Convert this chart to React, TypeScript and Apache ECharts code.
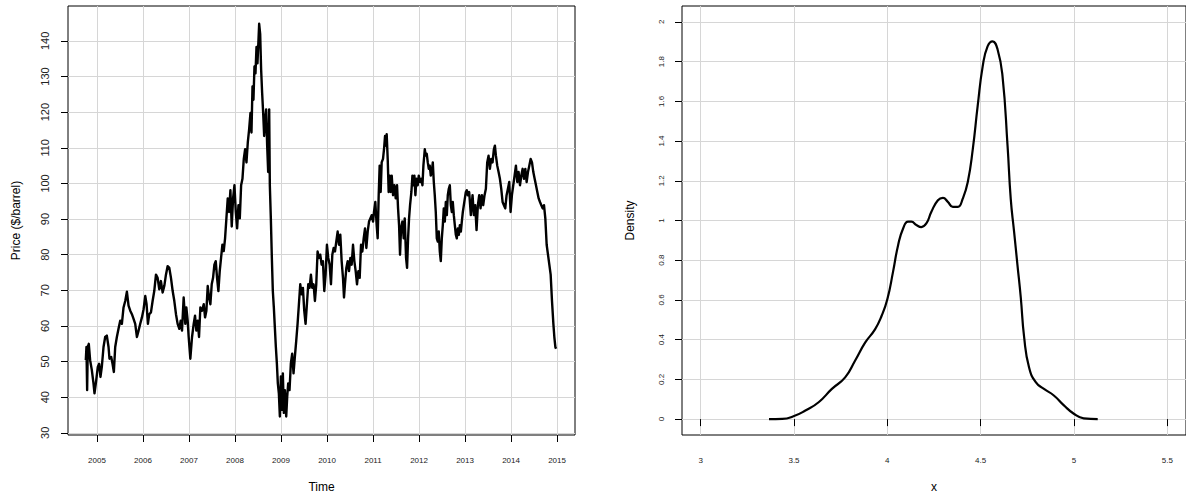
import React, { useEffect, useRef } from "react";
import * as echarts from "echarts";

// Daily crude oil price ($/barrel) at ~2-week resolution
const oil2004to2006: [number, number][] = [
  [2004.757, 50.4], [2004.771, 54.1], [2004.786, 42.0], [2004.8, 54.1], [2004.822, 55.0],
  [2004.851, 50.4], [2004.888, 47.6], [2004.924, 43.9], [2004.946, 41.1], [2004.975, 43.9],
  [2005.018, 48.5], [2005.047, 49.4], [2005.076, 45.7], [2005.105, 48.5], [2005.142, 54.1],
  [2005.178, 56.9], [2005.214, 57.3], [2005.251, 54.1], [2005.272, 50.8], [2005.309, 51.3],
  [2005.338, 49.4], [2005.367, 47.1], [2005.396, 54.1], [2005.432, 56.9], [2005.468, 59.2],
  [2005.505, 61.5], [2005.541, 60.6], [2005.577, 65.2], [2005.614, 67.0], [2005.65, 69.6],
  [2005.686, 65.7], [2005.723, 64.3], [2005.759, 63.3], [2005.795, 62.0], [2005.831, 60.6],
  [2005.868, 56.9], [2005.904, 58.7], [2005.94, 60.6], [2005.977, 62.4], [2006.013, 64.7],
  [2006.049, 68.4], [2006.078, 66.1], [2006.107, 60.6], [2006.136, 63.3], [2006.173, 63.8],
  [2006.209, 67.0], [2006.245, 69.8], [2006.282, 74.4], [2006.318, 73.5], [2006.354, 70.3],
  [2006.39, 72.6], [2006.427, 69.4], [2006.463, 71.2], [2006.499, 74.4], [2006.536, 76.8],
  [2006.572, 76.3], [2006.608, 73.5], [2006.645, 69.8], [2006.681, 67.0], [2006.717, 63.3],
  [2006.753, 60.6], [2006.79, 59.2], [2006.819, 61.5], [2006.848, 58.7],
];

const oil2007to2008: [number, number][] = [
  [2006.884, 68.0], [2006.92, 60.6], [2006.942, 65.2], [2006.971, 61.5], [2006.993, 56.9],
  [2007.029, 50.8], [2007.066, 56.9], [2007.102, 60.6], [2007.131, 62.9], [2007.16, 58.7],
  [2007.189, 61.5], [2007.218, 56.9], [2007.247, 65.2], [2007.283, 64.3], [2007.32, 66.1],
  [2007.349, 62.4], [2007.378, 64.3], [2007.407, 71.2], [2007.436, 68.0], [2007.465, 66.1],
  [2007.494, 71.7], [2007.523, 73.5], [2007.552, 77.2], [2007.581, 78.2], [2007.61, 73.5],
  [2007.639, 69.8], [2007.668, 75.4], [2007.697, 79.1], [2007.726, 82.8], [2007.755, 81.0],
  [2007.784, 84.6], [2007.813, 90.2], [2007.842, 95.8], [2007.871, 92.0], [2007.9, 98.1],
  [2007.929, 87.9], [2007.958, 95.8], [2007.988, 99.5], [2008.017, 92.0], [2008.046, 87.4],
  [2008.075, 93.9], [2008.104, 90.2], [2008.133, 99.5], [2008.162, 101.3], [2008.191, 106.9],
  [2008.22, 109.6], [2008.249, 105.9], [2008.278, 111.5], [2008.307, 115.2], [2008.336, 119.8],
  [2008.358, 114.3], [2008.38, 127.2], [2008.401, 123.5], [2008.423, 132.8], [2008.445, 130.9],
  [2008.467, 138.3], [2008.488, 133.7], [2008.51, 140.2], [2008.525, 144.8], [2008.547, 142.0],
  [2008.568, 131.9], [2008.59, 125.4], [2008.612, 119.8], [2008.634, 113.3], [2008.655, 118.0],
  [2008.677, 120.8], [2008.699, 110.6], [2008.721, 103.2], [2008.743, 120.8], [2008.757, 99.5],
  [2008.779, 90.2], [2008.801, 79.1], [2008.822, 69.8], [2008.844, 65.2], [2008.866, 59.6],
  [2008.888, 54.1], [2008.91, 49.5], [2008.931, 43.9], [2008.953, 41.1],
];

const oil2009to2010: [number, number][] = [
  [2008.975, 34.6], [2008.997, 45.8], [2009.018, 36.5], [2009.04, 46.7], [2009.062, 35.6],
  [2009.084, 42.0], [2009.113, 34.6], [2009.135, 40.2], [2009.156, 43.9], [2009.185, 42.0],
  [2009.214, 49.5], [2009.243, 52.2], [2009.272, 46.7], [2009.301, 51.3], [2009.331, 55.9],
  [2009.36, 60.6], [2009.389, 66.1], [2009.418, 71.7], [2009.447, 68.9], [2009.476, 70.7],
  [2009.505, 64.3], [2009.534, 60.6], [2009.563, 66.1], [2009.592, 71.7], [2009.621, 70.7],
  [2009.65, 74.4], [2009.679, 70.7], [2009.708, 71.7], [2009.737, 67.0], [2009.766, 71.7],
  [2009.795, 80.9], [2009.824, 79.1], [2009.853, 80.0], [2009.882, 77.2], [2009.911, 78.2],
  [2009.94, 69.8], [2009.969, 74.4], [2009.998, 82.8], [2010.027, 79.1], [2010.057, 77.2],
  [2010.086, 71.7], [2010.115, 80.0], [2010.144, 81.9], [2010.173, 80.9], [2010.202, 83.7],
  [2010.231, 86.5], [2010.26, 82.8], [2010.289, 85.6], [2010.318, 78.2], [2010.347, 73.5],
  [2010.369, 68.0], [2010.39, 71.7], [2010.42, 76.3], [2010.449, 78.2], [2010.478, 75.4],
  [2010.507, 79.1], [2010.536, 77.2], [2010.565, 82.8], [2010.594, 78.2], [2010.623, 75.4],
  [2010.652, 71.7], [2010.681, 75.4], [2010.71, 73.5], [2010.739, 82.8], [2010.768, 80.9],
  [2010.797, 84.6], [2010.826, 87.4], [2010.855, 81.9], [2010.884, 86.5], [2010.913, 89.3],
  [2010.942, 90.2], [2010.971, 91.1], [2011.0, 89.3],
];

const oil2011to2012: [number, number][] = [
  [2011.021, 92.0], [2011.05, 94.8], [2011.079, 88.3], [2011.101, 84.6], [2011.123, 96.7],
  [2011.144, 105.0], [2011.166, 97.6], [2011.188, 105.9], [2011.217, 106.9], [2011.239, 109.6],
  [2011.261, 113.3], [2011.282, 110.6], [2011.297, 113.8], [2011.319, 106.9], [2011.34, 97.6],
  [2011.362, 102.2], [2011.384, 97.6], [2011.406, 102.2], [2011.435, 96.7], [2011.464, 99.5],
  [2011.493, 95.8], [2011.522, 99.5], [2011.544, 93.0], [2011.566, 88.3], [2011.587, 80.0],
  [2011.609, 87.4], [2011.638, 89.3], [2011.667, 84.6], [2011.689, 90.2], [2011.718, 79.1],
  [2011.74, 76.3], [2011.762, 84.6], [2011.783, 90.2], [2011.805, 93.9], [2011.834, 97.6],
  [2011.856, 102.2], [2011.878, 99.5], [2011.899, 102.2], [2011.921, 96.7], [2011.943, 101.3],
  [2011.972, 99.5], [2011.994, 102.2], [2012.023, 100.4], [2012.052, 101.3], [2012.074, 99.5],
  [2012.095, 105.0], [2012.125, 109.6], [2012.146, 107.8], [2012.168, 108.3], [2012.19, 105.9],
  [2012.212, 104.1], [2012.233, 105.0], [2012.255, 102.2], [2012.277, 103.2], [2012.299, 105.9],
  [2012.321, 100.4], [2012.342, 96.7], [2012.364, 92.0], [2012.386, 84.6], [2012.408, 83.7],
  [2012.429, 86.5], [2012.451, 80.9], [2012.473, 78.2], [2012.495, 84.6], [2012.517, 88.3],
  [2012.538, 93.0], [2012.56, 89.3], [2012.582, 94.8], [2012.604, 91.1], [2012.625, 96.7],
  [2012.647, 98.5], [2012.669, 99.5], [2012.691, 93.9], [2012.713, 92.0], [2012.734, 94.8],
  [2012.756, 91.1], [2012.778, 88.3], [2012.8, 85.6], [2012.821, 84.6], [2012.843, 87.4],
  [2012.865, 85.6], [2012.887, 88.3], [2012.909, 86.5], [2012.93, 89.3], [2012.952, 92.0],
  [2012.974, 93.9], [2012.996, 95.8], [2013.017, 97.6], [2013.039, 98.1], [2013.061, 96.7],
];

const oil2013to2014: [number, number][] = [
  [2013.09, 97.6], [2013.126, 91.1], [2013.163, 96.7], [2013.192, 91.1], [2013.221, 93.9],
  [2013.25, 86.9], [2013.279, 93.9], [2013.308, 96.7], [2013.337, 93.0], [2013.366, 96.7],
  [2013.395, 93.9], [2013.424, 96.7], [2013.453, 98.5], [2013.482, 105.9], [2013.511, 107.8],
  [2013.54, 104.1], [2013.569, 106.9], [2013.598, 105.9], [2013.627, 109.6], [2013.649, 110.6],
  [2013.671, 107.8], [2013.7, 105.0], [2013.729, 103.2], [2013.758, 101.3], [2013.787, 98.5],
  [2013.816, 94.8], [2013.845, 93.9], [2013.874, 93.0], [2013.903, 96.7], [2013.932, 98.5],
  [2013.961, 100.4], [2013.99, 92.0], [2014.019, 96.7], [2014.048, 99.5], [2014.077, 102.2],
  [2014.106, 105.0], [2014.135, 100.4], [2014.164, 103.2], [2014.194, 99.5], [2014.223, 102.2],
  [2014.252, 104.1], [2014.281, 101.3], [2014.31, 104.1], [2014.339, 100.4], [2014.368, 103.2],
  [2014.397, 105.0], [2014.426, 106.9], [2014.455, 105.9], [2014.484, 103.2], [2014.513, 101.3],
  [2014.542, 99.5], [2014.571, 97.6], [2014.6, 95.8], [2014.629, 94.8], [2014.658, 93.9],
  [2014.687, 93.0], [2014.716, 93.9], [2014.745, 90.2], [2014.774, 82.8], [2014.803, 80.0],
  [2014.832, 77.2], [2014.861, 74.4], [2014.89, 67.0], [2014.92, 60.6], [2014.941, 56.9],
  [2014.963, 54.1], [2014.978, 53.6],
];

// Kernel density of log(price)
const densityX = [
  3.366, 3.437, 3.497, 3.561, 3.632, 3.703, 3.774, 3.827, 3.881, 3.934, 3.969, 4.0, 4.031,
  4.058, 4.085, 4.111, 4.129, 4.156, 4.182, 4.209, 4.236, 4.271, 4.298, 4.324, 4.351, 4.378,
  4.404, 4.431, 4.458, 4.484, 4.511, 4.537, 4.564, 4.591, 4.617, 4.644, 4.661, 4.679, 4.697,
  4.715, 4.733, 4.759, 4.795, 4.839, 4.892, 4.946, 4.999, 5.052, 5.127,
];
const densityY = [
  0, 0.001, 0.014, 0.043, 0.085, 0.152, 0.21, 0.294, 0.385, 0.452, 0.519, 0.603, 0.744,
  0.877, 0.961, 0.994, 0.994, 0.977, 0.967, 0.985, 1.044, 1.102, 1.114, 1.094, 1.069, 1.069,
  1.11, 1.194, 1.361, 1.577, 1.777, 1.877, 1.902, 1.86, 1.727, 1.377, 1.11, 0.944, 0.777,
  0.611, 0.411, 0.261, 0.186, 0.152, 0.119, 0.069, 0.027, 0.004, 0,
];

const yearTicks = [2005, 2006, 2007, 2008, 2009, 2010, 2011, 2012, 2013, 2014, 2015];
const priceTicks = [30, 40, 50, 60, 70, 80, 90, 100, 110, 120, 130, 140];
const logPriceTicks = [3, 3.5, 4, 4.5, 5, 5.5];
const densityTicks = [0, 0.2, 0.4, 0.6, 0.8, 1, 1.2, 1.4, 1.6, 1.8, 2];

export default function App() {
  const ref = useRef<HTMLDivElement>(null);

  useEffect(() => {
    if (!ref.current) return;
    const chart = echarts.init(ref.current, null, { renderer: "svg" });
    const font = "'Liberation Sans', Arial, Helvetica, sans-serif";
    const grid = { lineStyle: { color: "#d6d6d6", width: 1 } };
    const tick = (vals: number[]) => ({
      show: true,
      inside: false,
      length: 7,
      customValues: vals,
      lineStyle: { color: "#000", width: 1 },
    });
    const label = (vals: number[], size: number, margin: number, rotate = 0) => ({
      customValues: vals,
      fontSize: size,
      margin,
      rotate,
      color: "#222",
      fontFamily: font,
      formatter: (v: number) => String(v),
    });
    const nameStyle = { fontSize: 12, color: "#000", fontFamily: font };
    const price = [
      ...oil2004to2006,
      ...oil2007to2008,
      ...oil2009to2010,
      ...oil2011to2012,
      ...oil2013to2014,
    ];

    chart.setOption({
      animation: false,
      backgroundColor: "#ffffff",
      grid: [
        { left: 68, top: 6, width: 507, height: 432, show: true, borderColor: "#000", borderWidth: 1, backgroundColor: "transparent" },
        { left: 682, top: 6, width: 507, height: 432, show: true, borderColor: "#000", borderWidth: 1, backgroundColor: "transparent" },
      ],
      xAxis: [
        {
          type: "value", gridIndex: 0, min: 2004.37, max: 2015.39,
          name: "Time", nameLocation: "middle", nameGap: 46, nameTextStyle: nameStyle,
          axisLine: { show: false }, axisTick: tick(yearTicks), axisLabel: label(yearTicks, 8, 21),
          splitLine: { show: true, ...grid },
        },
        {
          type: "value", gridIndex: 1, min: 2.9, max: 5.6,
          name: "x", nameLocation: "middle", nameGap: 46, nameTextStyle: nameStyle,
          axisLine: { show: false }, axisTick: tick(logPriceTicks), axisLabel: label(logPriceTicks, 8, 21),
          splitLine: { show: true, ...grid },
        },
      ],
      yAxis: [
        {
          type: "value", gridIndex: 0, min: 29.4, max: 149.8,
          name: "Price ($/barrel)", nameLocation: "middle", nameGap: 46, nameTextStyle: nameStyle,
          axisLine: { show: false }, axisTick: tick(priceTicks), axisLabel: label(priceTicks, 11, 18, 90),
          splitLine: { show: true, ...grid },
        },
        {
          type: "value", gridIndex: 1, min: -0.08, max: 2.08,
          name: "Density", nameLocation: "middle", nameGap: 46, nameTextStyle: nameStyle,
          axisLine: { show: false }, axisTick: tick(densityTicks), axisLabel: label(densityTicks, 8, 17, 90),
          splitLine: { show: true, ...grid },
        },
      ],
      series: [
        {
          type: "line", xAxisIndex: 0, yAxisIndex: 0, data: price,
          showSymbol: false, symbol: "none", clip: true,
          lineStyle: { color: "#000", width: 2.4, join: "round" },
        },
        {
          type: "line", xAxisIndex: 1, yAxisIndex: 1,
          data: densityX.map((x, i) => [x, densityY[i]]),
          showSymbol: false, symbol: "none", smooth: 0.5, clip: true,
          lineStyle: { color: "#000", width: 2.2 },
        },
      ],
    });
    return () => chart.dispose();
  }, []);

  return (
    <div
      ref={ref}
      style={{ position: "fixed", left: 0, top: 0, width: 1186, height: 498 }}
    />
  );
}
